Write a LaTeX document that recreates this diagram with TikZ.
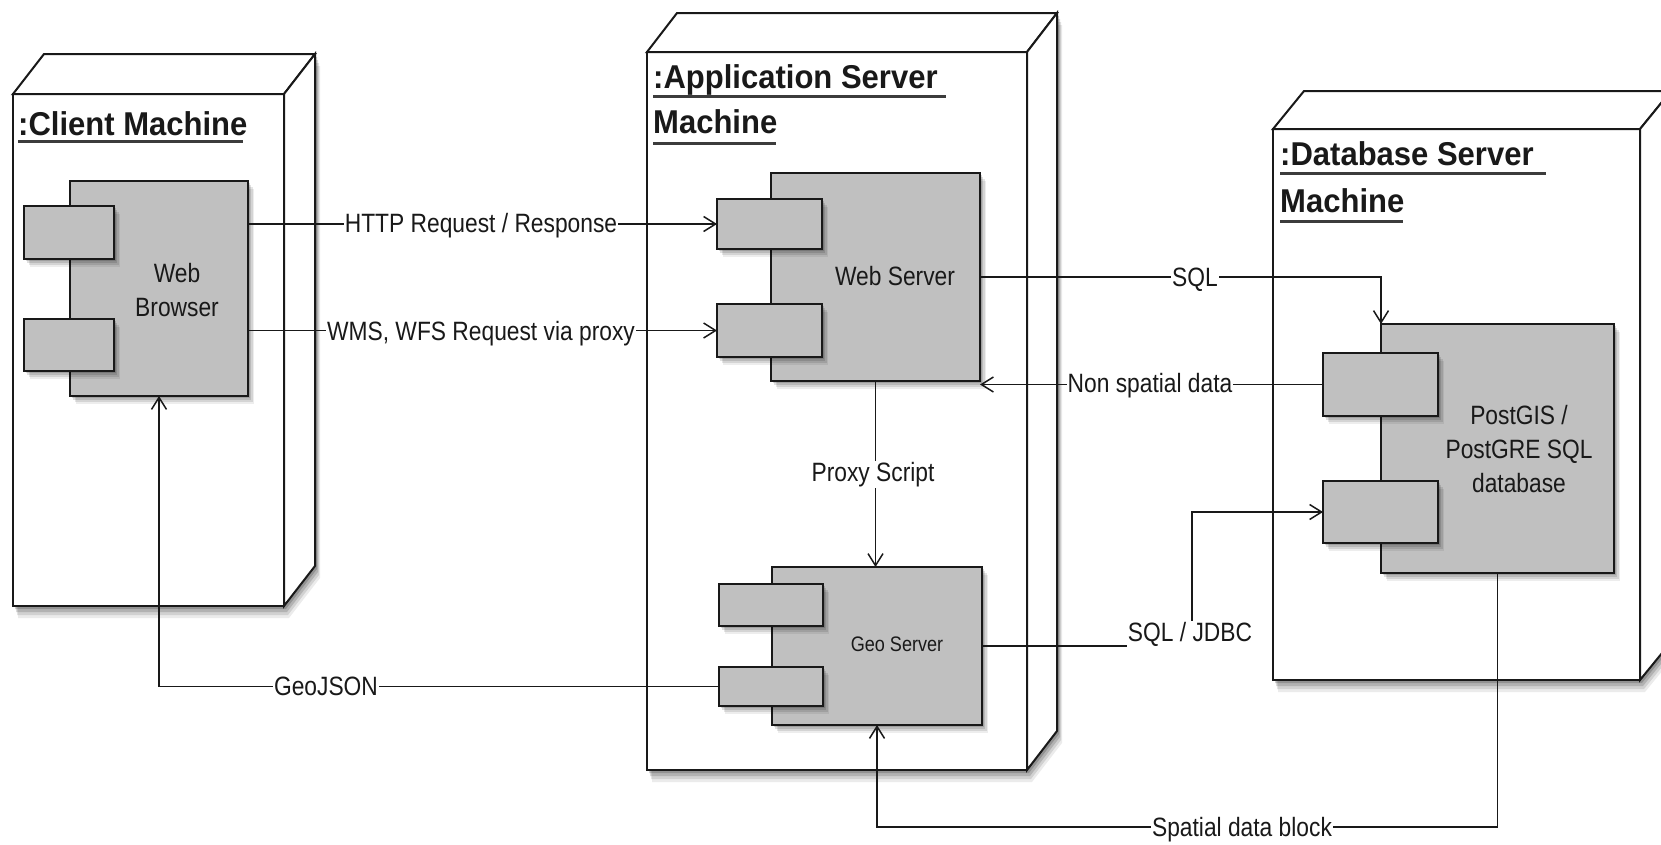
\documentclass[tikz,border=0pt]{standalone}
\usepackage{fontspec}
\setmainfont{Liberation Sans}
\newfontfamily\lblfont[FakeStretch=0.86]{Liberation Sans}
\newfontfamily\ttlfont[FakeStretch=0.94]{Liberation Sans}
\usetikzlibrary{arrows.meta,calc}
\pgfdeclarelayer{bg}
\pgfsetlayers{bg,main}
\definecolor{compgray}{RGB}{192,192,192}
\definecolor{ink}{RGB}{25,25,25}
\tikzset{
  softshadow/.style={
    preaction={draw=none, fill=black, fill opacity=0.14, transform canvas={xshift=1.5pt, yshift=-2pt}},
    preaction={draw=none, fill=black, fill opacity=0.12, transform canvas={xshift=3pt, yshift=-4pt}},
    preaction={draw=none, fill=black, fill opacity=0.10, transform canvas={xshift=4.5pt, yshift=-6pt}},
    preaction={draw=none, fill=black, fill opacity=0.07, transform canvas={xshift=6pt, yshift=-8pt}}},
  bigshadow/.style={
    preaction={draw=none, fill=black, fill opacity=0.18, transform canvas={xshift=2pt, yshift=-3pt}},
    preaction={draw=none, fill=black, fill opacity=0.14, transform canvas={xshift=3pt, yshift=-6pt}},
    preaction={draw=none, fill=black, fill opacity=0.11, transform canvas={xshift=4pt, yshift=-9pt}},
    preaction={draw=none, fill=black, fill opacity=0.08, transform canvas={xshift=5pt, yshift=-12pt}}},
  frontface/.style={draw=ink, line width=2pt, fill=white, inner sep=0pt, outer sep=0pt, anchor=north west},
  sideface/.style={draw=ink, line width=2pt, fill=white, line join=miter},
  silhouette/.style={fill=white, bigshadow},
  comp/.style={draw=ink, line width=1.8pt, fill=compgray, inner sep=0pt, outer sep=0pt, anchor=north west, softshadow},
  conn/.style={draw=ink, line width=1.5pt},
  arr/.style={-{Straight Barb[length=12pt,width=15pt]}},
  lbl/.style={font=\lblfont\fontsize{26.5}{34}\selectfont, text=ink, fill=white, inner sep=1pt, anchor=base},
  inlbl/.style={font=\lblfont\fontsize{26.5}{34}\selectfont, text=ink, align=center, inner sep=0pt},
  ttl/.style={font=\ttlfont\bfseries\fontsize{33}{40}\selectfont, text=ink, anchor=base west, inner sep=0pt},
  uline/.style={draw=ink!85, line width=3pt},
}
\begin{document}
\begin{tikzpicture}[x=1pt,y=-1pt]
\useasboundingbox (0,0) rectangle (1661,844);
\begin{pgfonlayer}{bg}
\fill[white] (0,0) rectangle (1661,844);
\end{pgfonlayer}

% ---------- machines ----------
\node[frontface, minimum width=271pt, minimum height=512pt] (client) at (13,94) {};
\begin{pgfonlayer}{bg}
\path[silhouette] (client.south west) -- (client.north west) -- ++(31,-40) -- ($(client.north east)+(31,-40)$) -- ($(client.south east)+(31,-40)$) -- (client.south east) -- cycle;
\end{pgfonlayer}
\draw[sideface] (client.north west) -- ++(31,-40) -- ($(client.north east)+(31,-40)$) -- (client.north east) -- cycle;
\draw[sideface] (client.north east) -- ++(31,-40) -- ($(client.south east)+(31,-40)$) -- (client.south east) -- cycle;

\node[frontface, minimum width=380pt, minimum height=718pt] (app) at (647,52) {};
\begin{pgfonlayer}{bg}
\path[silhouette] (app.south west) -- (app.north west) -- ++(30,-39) -- ($(app.north east)+(30,-39)$) -- ($(app.south east)+(30,-39)$) -- (app.south east) -- cycle;
\end{pgfonlayer}
\draw[sideface] (app.north west) -- ++(30,-39) -- ($(app.north east)+(30,-39)$) -- (app.north east) -- cycle;
\draw[sideface] (app.north east) -- ++(30,-39) -- ($(app.south east)+(30,-39)$) -- (app.south east) -- cycle;

\node[frontface, minimum width=367pt, minimum height=551pt] (db) at (1273,129) {};
\begin{pgfonlayer}{bg}
\path[silhouette] (db.south west) -- (db.north west) -- ++(31,-38) -- ($(db.north east)+(31,-38)$) -- ($(db.south east)+(31,-38)$) -- (db.south east) -- cycle;
\end{pgfonlayer}
\draw[sideface] (db.north west) -- ++(31,-38) -- ($(db.north east)+(31,-38)$) -- (db.north east) -- cycle;
\draw[sideface] (db.north east) -- ++(31,-38) -- ($(db.south east)+(31,-38)$) -- (db.south east) -- cycle;

% ---------- titles ----------
\node[ttl] (ctitle) at (18,135) {:Client Machine};
\draw[uline] (18,141) -- (243,141);
\node[ttl] (atitle1) at (653,88) {:Application Server};
\draw[uline] (653,96) -- (946,96);
\node[ttl] (atitle2) at (653,133) {Machine};
\draw[uline] (653,143) -- (776,143);
\node[ttl] (dtitle1) at (1280,165) {:Database Server};
\draw[uline] (1280,173) -- (1546,173);
\node[ttl] (dtitle2) at (1280,212) {Machine};
\draw[uline] (1280,221) -- (1403,221);

% ---------- components ----------
\node[comp, minimum width=178pt, minimum height=215pt] (browser) at (70,181) {};
\node[comp, minimum width=90pt, minimum height=53pt] (bp1) at (24,206) {};
\node[comp, minimum width=90pt, minimum height=52pt] (bp2) at (24,319) {};
\node[inlbl] (browsertxt) at (177,290) {Web\\Browser};

\node[comp, minimum width=209pt, minimum height=208pt] (web) at (771,173) {};
\node[comp, minimum width=105pt, minimum height=50pt] (wp1) at (717,199) {};
\node[comp, minimum width=105pt, minimum height=53pt] (wp2) at (717,304) {};
\node[inlbl, anchor=base] (webtxt) at (895,285) {Web Server};

\node[comp, minimum width=210pt, minimum height=158pt] (geo) at (772,567) {};
\node[comp, minimum width=104pt, minimum height=42pt] (gp1) at (719,584) {};
\node[comp, minimum width=104pt, minimum height=39pt] (gp2) at (719,667) {};
\node[inlbl, anchor=base, font=\lblfont\fontsize{21}{26}\selectfont] (geotxt) at (897,651) {Geo Server};

\node[comp, minimum width=233pt, minimum height=249pt] (dbc) at (1381,324) {};
\node[comp, minimum width=115pt, minimum height=63pt] (dp1) at (1323,353) {};
\node[comp, minimum width=115pt, minimum height=62pt] (dp2) at (1323,481) {};
\node[inlbl] (dbtxt) at (1519,449) {PostGIS /\\PostGRE SQL\\database};

% ---------- connectors ----------
\coordinate (jdbc) at (1192,646);
\coordinate (spb) at (1497,827);
\draw[conn, arr] (wp1.west -| browser.east) -- (wp1.west);
\draw[conn, arr] (wp2.west -| browser.east) -- (wp2.west);
\draw[conn, arr] (web.east) -- (web.east -| dbc.north west) -- (dbc.north west);
\draw[conn, arr] (dp1.west) -- (dp1.west -| web.east);
\draw[conn, arr] (web.south) -- (web.south |- geo.north);
\draw[conn, arr] (geo.east) -- (jdbc) -- (jdbc |- dp2.west) -- (dp2.west);
\draw[conn, arr] (gp2.west) -- (gp2.west -| browser.south) -- (browser.south);
\draw[conn, arr] (dbc.south) -- (dbc.south |- spb) -- (spb -| geo.south) -- (geo.south);

% ---------- labels ----------
\node[lbl] (lhttp) at (481,232.5) {HTTP Request / Response};
\node[lbl] (lwms) at (481,340) {WMS, WFS Request via proxy};
\node[lbl] (lsql) at (1195,286.5) {SQL};
\node[lbl] (lnsd) at (1150,392.5) {Non spatial data};
\node[lbl] (lproxy) at (873,481) {Proxy Script};
\node[lbl] (ljdbc) at (1190,641) {SQL / JDBC};
\node[lbl] (lgeojson) at (326,695.5) {GeoJSON};
\node[lbl] (lspatial) at (1242,836.5) {Spatial data block};
\end{tikzpicture}
\end{document}
